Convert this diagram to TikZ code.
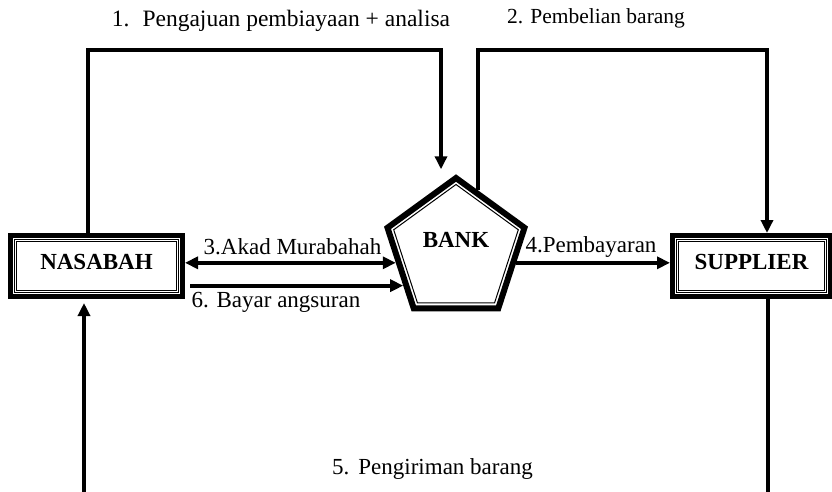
\documentclass[tikz,border=0pt]{standalone}
\usepackage{fontspec}
\setmainfont{Liberation Serif}
\usetikzlibrary{arrows.meta,shapes.geometric}
\tikzstyle{frame}=[draw,line width=5pt,minimum width=172pt,minimum height=61pt,inner sep=0pt]
\tikzstyle{innerframe}=[draw,double,double distance=1pt,line width=0.8pt,minimum width=162pt,minimum height=51pt,inner sep=0pt,text height=16pt,text depth=9pt,font=\fontsize{23}{26}\selectfont\bfseries]
\tikzstyle{pentagon}=[draw,regular polygon,regular polygon sides=5,line width=6pt,minimum size=144pt,inner sep=0pt]
\tikzstyle{innerpentagon}=[draw,regular polygon,regular polygon sides=5,line width=1pt,minimum size=131pt,inner sep=0pt]

\begin{document}
\begin{tikzpicture}[x=1pt,y=-1pt,
arr/.style={line width=4pt,-{Triangle[length=13pt,width=12pt]}},
darr/.style={line width=4pt,{Triangle[length=13pt,width=12pt]}-{Triangle[length=13pt,width=12pt]}},
lbl/.style={font=\fontsize{23}{26}\selectfont},
boxtext/.style={font=\fontsize{23}{26}\selectfont\bfseries}]
\useasboundingbox (0,0) rectangle (832,491);
\node[frame] (nas) at (96.5,266) {};
\node[innerframe] (nasin) at (nas) {NASABAH};
\node[frame,minimum width=158pt] (sup) at (751.5,266) {};
\node[innerframe,minimum width=148pt] (supin) at (sup) {SUPPLIER};
\node[pentagon] (bank) at (456,250) {};
\node[innerpentagon] (bankin) at (bank) {};
\node[boxtext] (banktext) at ([yshift=10pt]bank.center) {BANK};

\coordinate (k1) at (88,50);
\coordinate (k2) at (441,50);
\coordinate (k3) at (767,50);
\coordinate (k4) at (768,494);
\coordinate (k5) at (84,494);

\draw[arr,shorten >=5pt] (nas.north -| k1) -- (k1) -- (k2) -- (k2 |- bank.north);
\draw[arr] (bank.70) |- (k3) -- (k3 |- sup.north);
\draw[darr] (nas.east |- bank.192) -- (bank.192);
\draw[arr,shorten <=5pt] (nas.east |- bank.214) -- (bank.214);
\draw[arr] (bank.348) -- (bank.348 -| sup.west);
\draw[arr,shorten >=4pt] (sup.south -| k4) -- (k4) -- (k5) -- (k5 |- nas.south);

\node[lbl,font=\fontsize{23.5}{26}\selectfont] (t1) at (281,20.5) {1.\hspace{13pt}Pengajuan pembiayaan + analisa};
\node[lbl,font=\fontsize{21.5}{26}\selectfont] (t2) at (596,18.5) {2. Pembelian barang};
\node[lbl] (t3) at (292.5,246.5) {3.Akad Murabahah};
\node[lbl] (t4) at (591,246.5) {4.Pembayaran};
\node[lbl] (t6) at (276,302.5) {6. Bayar angsuran};
\node[lbl] (t5) at (432.5,468.5) {5.\hspace{9pt}Pengiriman barang};
\end{tikzpicture}
\end{document}
